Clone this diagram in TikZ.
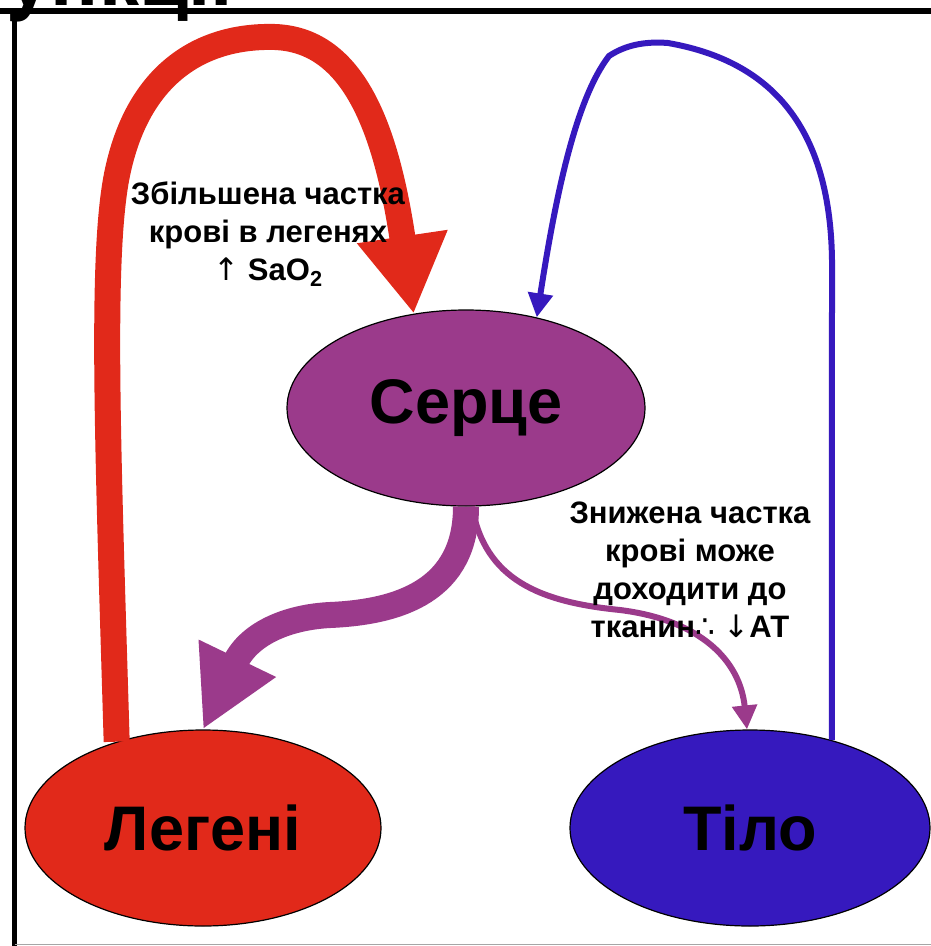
\documentclass[tikz,border=0pt]{standalone}
\usepackage{fontspec}
\setmainfont{Liberation Sans}
\newfontfamily\symfont{DejaVu Sans}
\usetikzlibrary{shapes.geometric,arrows.meta}
\definecolor{hred}{RGB}{225,41,26}
\definecolor{hpurple}{RGB}{155,58,139}
\definecolor{hblue}{RGB}{54,25,190}
\tikzset{
  organ/.style={ellipse, draw=black, line width=1.2pt, inner sep=0pt,
    font=\fontsize{63}{63}\selectfont\bfseries, text=black},
  note/.style={align=center, font=\fontsize{31}{38}\selectfont\bfseries, text=black, inner sep=0pt},
  thickred/.style={draw=hred, line width=26pt, -{Triangle[length=78pt,width=86pt]}},
  thickpurple/.style={draw=hpurple, line width=26pt, -{Triangle[length=79pt,width=80pt]}},
  thinpurple/.style={draw=hpurple, line width=6pt, -{Triangle[length=24pt,width=24pt]}},
  thinblue/.style={draw=hblue, line width=6pt, -{Triangle[length=24pt,width=24pt]}},
}
\begin{document}
\begin{tikzpicture}[x=1pt,y=-1pt]
\useasboundingbox (0,0) rectangle (931,946);
\fill[white] (0,0) rectangle (931,946);
\begin{scope}
\clip (0,0) rectangle (931,946);
\node[anchor=base west, font=\fontsize{80}{80}\selectfont\bfseries, inner sep=0pt] (title) at (-62,5) {Функції};
\end{scope}
% frame
\draw[line width=6pt] (0,11) -- (931,11);
\draw[line width=5pt] (14.5,8) -- (14.5,946);
\draw[gray!70, line width=1.5pt] (14.5,944.5) -- (931,944.5);
% organs
\node[organ, fill=hpurple, minimum width=358pt, minimum height=196pt] (heart) at (466,408) {Серце};
\node[organ, fill=hred, minimum width=356pt, minimum height=196pt] (lungs) at (203,828) {Легені};
\node[organ, fill=hblue, minimum width=360pt, minimum height=196pt] (body) at (750,828) {Тіло};
% connectors
\coordinate (rs) at (lungs.135);
\coordinate (re) at (heart.119);
\draw[thickred] (rs) .. controls (108,450) and (100,250) .. (118,170)
  .. controls (140,70) and (205,35) .. (275,37)
  .. controls (350,40) and (385,120) .. (re);
\coordinate (bs) at (body.47);
\coordinate (be) at (heart.52);
\draw[thinblue] (bs) -- (832,260) .. controls (830,120) and (765,60) .. (668,43)
  .. controls (643,41) and (624,46) .. (609,56)
  .. controls (575,100) and (555,200) .. (be);
\draw[thickpurple] (heart.south) .. controls (466,590) and (400,612) .. (330,615)
  .. controls (290,617) and (250,632) .. (lungs.north);
\draw[thinpurple] ([xshift=6pt]heart.south) .. controls (485,580) and (540,602) .. (620,610)
  .. controls (700,620) and (740,660) .. ([xshift=-3pt]body.north);
% notes
\node[note] (t1) at (268,234) {Збільшена частка\\крові в легенях\\{\symfont\mdseries ↑} SaO\textsubscript{2}};
\node[note] (t2) at (690,570) {Знижена частка\\крові може\\доходити до\\тканин{\symfont\mdseries ∴} {\symfont\mdseries ↓}АТ};
\end{tikzpicture}
\end{document}
